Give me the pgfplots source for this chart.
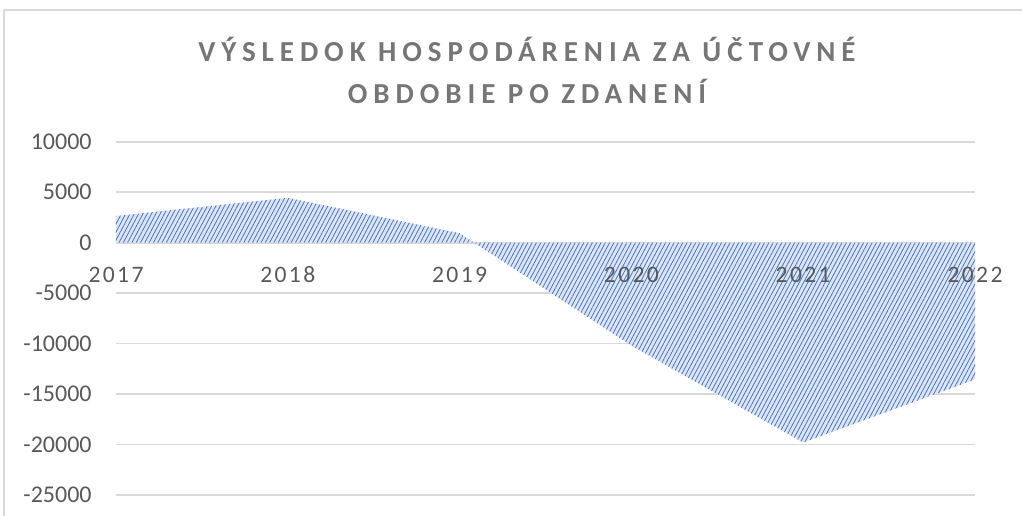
\documentclass[border=0pt]{standalone}
\usepackage{fontspec}
\setmainfont{Carlito}
\usepackage{pgfplots}
\pgfplotsset{compat=1.18}
\usetikzlibrary{patterns.meta}
\definecolor{AreaFill}{RGB}{220,230,246}
\definecolor{AreaLine}{RGB}{76,120,198}
\definecolor{GridGray}{RGB}{217,217,217}
\definecolor{TickGray}{RGB}{89,89,89}
\definecolor{TitleGray}{RGB}{118,118,118}
\begin{document}
\begin{tikzpicture}
% 1 px of the reference = 0.5pt; axis box = px 116..975 x 141.7..495
\begin{axis}[
    set layers=standard,
    at={(0pt,0pt)}, anchor=south west,
    scale only axis,
    width=429.5pt, height=176.6pt,
    xmin=2017, xmax=2022,
    ymin=-25000, ymax=10000,
    scaled y ticks=false,
    xtick={2017,2018,2019,2020,2021,2022},
    xticklabels={2017,2018,2019,2020,2021,2022},
    ytick={-25000,-20000,-15000,-10000,-5000,0,5000,10000},
    yticklabels={-25000,-20000,-15000,-10000,-5000,0,5000,10000},
    axis line style={draw=none},
    major tick length=0pt,
    ymajorgrids=true,
    major grid style={GridGray, line width=0.8pt},
    tick label style={font=\fontsize{12}{14}\selectfont, text=TickGray},
    yticklabel style={anchor=east, inner sep=0pt, xshift=-12pt},
    xticklabel style={anchor=center, inner sep=0pt, yshift=110pt,
        font=\fontsize{11.8}{14}\selectfont\addfontfeatures{LetterSpace=10}},
]
% area sits above the grid but below the tick labels
\addplot[on layer=axis ticks, draw=none, fill=AreaFill,
    postaction={pattern={Lines[angle=62, distance=1.9pt, line width=0.42pt]}, pattern color=AreaLine}]
    coordinates {(2017,2650) (2018,4450) (2019,950) (2020,-10200) (2021,-19800) (2022,-13550)}
    \closedcycle;
\end{axis}
\draw[GridGray, line width=0.8pt] (-56pt,-20pt) -- (-56pt,242.5pt) -- (470pt,242.5pt);
\node[anchor=base, text=TitleGray, font=\fontsize{14.5}{17}\selectfont\bfseries\addfontfeatures{LetterSpace=20.5}]
    at (205.5pt,216.5pt) {VÝSLEDOK HOSPODÁRENIA ZA ÚČTOVNÉ};
\node[anchor=base, text=TitleGray, font=\fontsize{14.5}{17}\selectfont\bfseries\addfontfeatures{LetterSpace=20.5}]
    at (205.5pt,195.5pt) {OBDOBIE PO ZDANENÍ};
\pgfresetboundingbox
\useasboundingbox (-58pt,-10pt) rectangle (453pt,247.5pt);
\end{tikzpicture}
\end{document}
